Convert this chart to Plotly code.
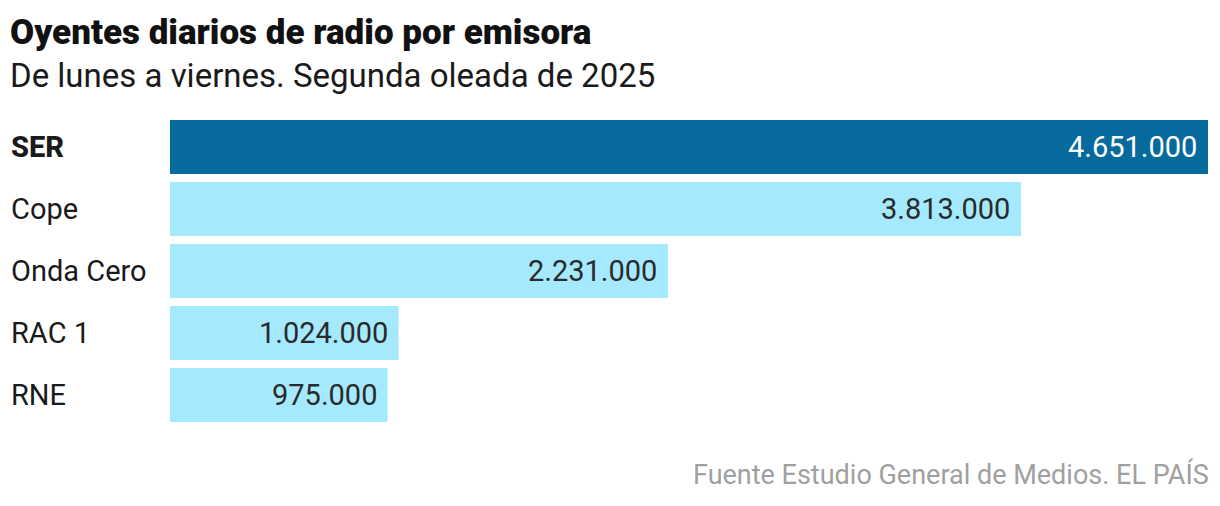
import plotly.graph_objects as go

categories = ["SER", "Cope", "Onda Cero", "RAC 1", "RNE"]
values = [4651000, 3813000, 2231000, 1024000, 975000]
value_labels = ["4.651.000", "3.813.000", "2.231.000", "1.024.000", "975.000"]

title = "Oyentes diarios de radio por emisora"
subtitle = "De lunes a viernes. Segunda oleada de 2025"
source = "Fuente Estudio General de Medios. EL PAÍS"

# page body has an 8px margin; figure coordinates are page coordinates minus 8
OFF = 8
W, H = 1220 - OFF, 506 - OFF
L, R, T, B = 170 - OFF, W - (1208 - OFF), 116 - OFF, H - (426 - OFF)
plot_w = W - L - R
plot_h = H - T - B

def px_x(px):
    return (px - OFF - L) / plot_w

def px_y(py):
    return (H - B - (py - OFF)) / plot_h

dark = "#066a9c"
light = "#a4e9fe"
colors = [dark if i == 0 else light for i in range(len(categories))]
FONT = "Roboto"

fig = go.Figure(go.Bar(
    x=values, y=categories, orientation="h",
    marker=dict(color=colors, line=dict(width=0)),
    hoverinfo="skip",
))

annotations = []
for i, (c, v, lab) in enumerate(zip(categories, values, value_labels)):
    annotations.append(dict(
        x=v, y=c, xref="x", yref="y", text=lab, showarrow=False,
        xanchor="right", yanchor="middle", xshift=-9,
        font=dict(family=FONT, size=29, color="#ffffff" if i == 0 else "#2a2a2a"),
    ))
    annotations.append(dict(
        x=px_x(9), y=c, xref="paper", yref="y", text=c, showarrow=False,
        xanchor="left", yanchor="middle",
        font=dict(family=FONT, size=29, color="#1a1a1a", weight=800 if i == 0 else 400),
    ))

annotations += [
    dict(x=px_x(8), y=px_y(33), xref="paper", yref="paper", text=title,
         showarrow=False, xanchor="left", yanchor="middle",
         font=dict(family=FONT, size=35, color="#111111", weight=900)),
    dict(x=px_x(8), y=px_y(76), xref="paper", yref="paper", text=subtitle,
         showarrow=False, xanchor="left", yanchor="middle",
         font=dict(family=FONT, size=33, color="#1a1a1a")),
    dict(x=1, y=px_y(474), xref="paper", yref="paper", text=source,
         showarrow=False, xanchor="right", yanchor="middle", xshift=3,
         font=dict(family=FONT, size=27, color="#a0a0a0")),
]

fig.update_layout(
    width=W, height=H,
    margin=dict(l=L, r=R, t=T, b=B, pad=0),
    paper_bgcolor="white", plot_bgcolor="white",
    bargap=8 / 62,
    showlegend=False,
    xaxis=dict(range=[0, values[0]], visible=False, fixedrange=True),
    yaxis=dict(categoryorder="array", categoryarray=categories, autorange="reversed",
               showticklabels=False, showgrid=False, zeroline=False,
               ticks="", fixedrange=True),
    annotations=annotations,
)

fig.write_html("out.html", config={"displayModeBar": False})
